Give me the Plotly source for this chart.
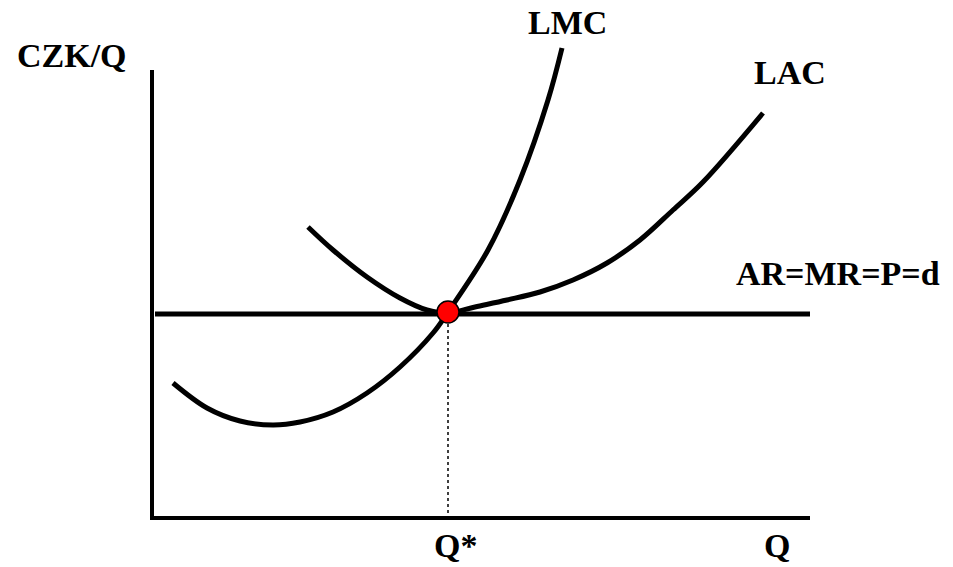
import plotly.graph_objects as go

# curve points (x right, y down, in picture units)
lmc_x = [173, 207, 240, 273, 300, 333, 367, 400, 433, 448, 488, 520, 548, 562]
lmc_y = [383, 408, 421, 425, 422, 412, 393, 367, 333, 312, 250, 180, 100, 48]

lac_x = [308, 333, 367, 400, 427, 448, 475, 507, 540, 573, 607, 640, 673, 703, 763]
lac_y = [227, 250, 277, 298, 310, 313, 307, 300, 292, 280, 263, 240, 210, 182, 113]

price_x = [155, 810]
price_y = [314, 314]

q_star = 448
p_star = 312

yaxis_x = [152, 152]
yaxis_y = [70, 520]
xaxis_x = [152, 810]
xaxis_y = [518, 518]

labels = ["CZK/Q", "LMC", "LAC", "AR=MR=P=d", "Q*", "Q"]
label_x = [72, 567, 790, 838, 455, 777]
label_y = [55, 22, 72, 273, 545, 545]

fig = go.Figure()

fig.add_trace(go.Scatter(x=yaxis_x, y=yaxis_y, mode="lines",
                         line=dict(color="black", width=4), hoverinfo="skip"))
fig.add_trace(go.Scatter(x=xaxis_x, y=xaxis_y, mode="lines",
                         line=dict(color="black", width=4), hoverinfo="skip"))

# dotted drop line to Q*
fig.add_trace(go.Scatter(x=[q_star, q_star], y=[p_star, xaxis_y[0]], mode="lines",
                         line=dict(color="black", width=1.5, dash="dot"), hoverinfo="skip"))

fig.add_trace(go.Scatter(x=price_x, y=price_y, mode="lines",
                         line=dict(color="black", width=5)))
fig.add_trace(go.Scatter(x=lmc_x, y=lmc_y, mode="lines",
                         line=dict(color="black", width=5, shape="spline", smoothing=1.0)))
fig.add_trace(go.Scatter(x=lac_x, y=lac_y, mode="lines",
                         line=dict(color="black", width=5, shape="spline", smoothing=1.0)))

fig.add_trace(go.Scatter(x=[q_star], y=[p_star], mode="markers",
                         marker=dict(size=22, color="red",
                                     line=dict(color="black", width=1.5))))

for _txt, _x, _y in zip(labels, label_x, label_y):
    fig.add_annotation(x=_x, y=_y, xref="x", yref="y", text="<b>" + _txt + "</b>",
                       showarrow=False,
                       font=dict(family="Times New Roman, Liberation Serif, serif",
                                 size=34, color="black"))

fig.update_xaxes(range=[0, 953], visible=False)
fig.update_yaxes(range=[567, 0], visible=False)
fig.update_layout(width=953, height=567, autosize=False,
                  margin=dict(l=0, r=0, t=0, b=0),
                  plot_bgcolor="white", paper_bgcolor="white",
                  showlegend=False)

# no body margin so the figure fills the window
fig.write_html("out.html", config={"displayModeBar": False},
               post_script="document.body.style.margin='0px';")
